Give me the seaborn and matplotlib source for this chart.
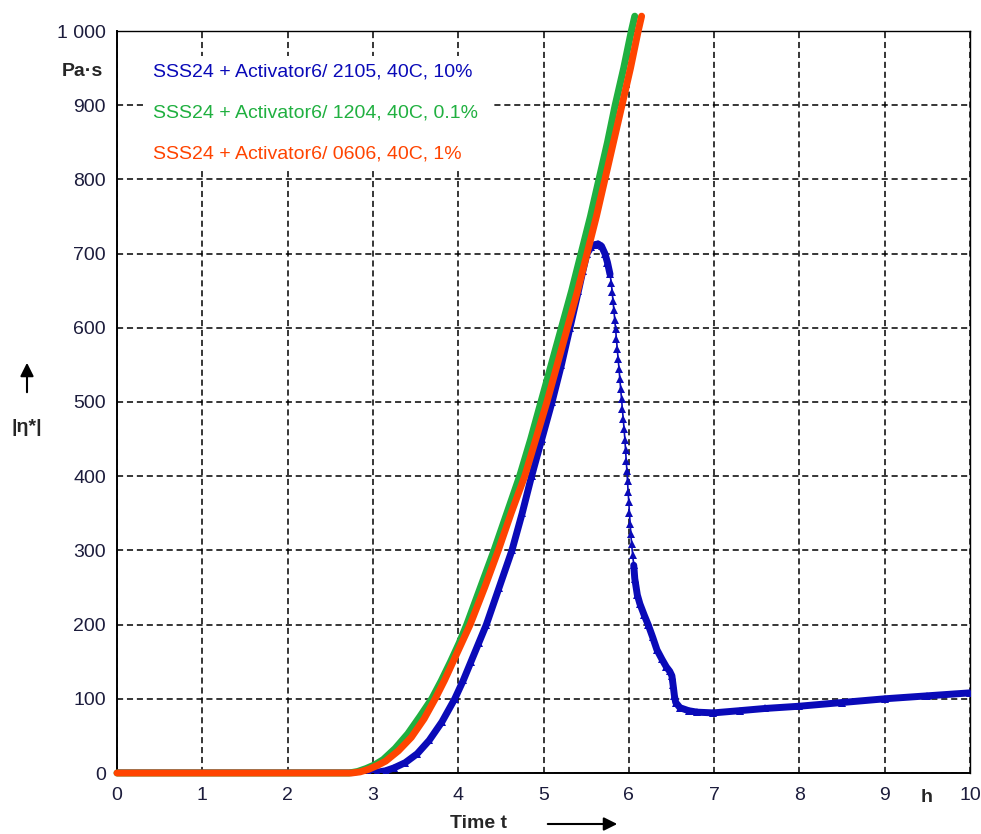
import numpy as np
import pandas as pd
import matplotlib
matplotlib.use("Agg")
import matplotlib.pyplot as plt
import seaborn as sns
from matplotlib.ticker import MultipleLocator, FixedLocator
from matplotlib.patches import Rectangle

# ---------------- data ----------------
series_names = [
    "SSS24 + Activator6/ 2105, 40C, 10%",
    "SSS24 + Activator6/ 1204, 40C, 0.1%",
    "SSS24 + Activator6/ 0606, 40C, 1%",
]

green_t = [0, 1, 2, 2.72, 2.82, 2.92, 3.02, 3.12, 3.26, 3.41, 3.55, 3.69, 3.80, 3.91, 4.01,
           4.10, 4.26, 4.42, 4.57, 4.72, 4.85, 4.97, 5.09, 5.21, 5.33, 5.44, 5.55, 5.65,
           5.75, 5.84, 5.94, 6.03, 6.07]
green_v = [0, 0, 0, 0, 2, 6, 11, 18, 33, 53, 76, 100, 124, 150, 175,
           200, 250, 300, 350, 400, 450, 500, 550, 600, 650, 700, 750, 800,
           850, 900, 950, 1000, 1020]

red_t = [0, 1, 2, 2.75, 2.85, 2.95, 3.05, 3.15, 3.30, 3.45, 3.60, 3.73, 3.84, 3.94, 4.04,
         4.14, 4.31, 4.47, 4.62, 4.78, 4.91, 5.04, 5.16, 5.28, 5.40, 5.51, 5.62, 5.72,
         5.82, 5.92, 6.02, 6.11, 6.15]
red_v = [0, 0, 0, 0, 1.5, 5, 10, 16, 30, 48, 73, 100, 125, 150, 175,
         200, 250, 300, 350, 400, 450, 500, 550, 600, 650, 700, 750, 800,
         850, 900, 950, 1000, 1020]

blue_t = [0, 1, 2, 2.95, 3.05, 3.15, 3.25, 3.38, 3.52, 3.66, 3.81, 3.96, 4.06, 4.15, 4.24,
          4.33, 4.48, 4.63, 4.75, 4.86, 4.98, 5.10, 5.21, 5.31, 5.41, 5.46, 5.51, 5.56,
          5.60, 5.64, 5.68, 5.72, 5.75, 5.78,
          5.795, 5.805, 5.815, 5.825, 5.835, 5.845, 5.855, 5.865, 5.875, 5.885, 5.895,
          5.905, 5.915, 5.925, 5.935, 5.945, 5.955, 5.962, 5.97, 5.978, 5.985,
          5.992, 6.0, 6.008, 6.016, 6.024, 6.033, 6.045, 6.058, 6.07,
          6.10, 6.13, 6.18, 6.23, 6.28, 6.33, 6.39, 6.44, 6.48, 6.505, 6.52, 6.535, 6.55,
          6.60, 6.70, 6.80, 6.99, 7.30, 7.60, 8.00, 8.50, 9.00, 9.50, 10.0]
blue_v = [0, 0, 0, 0, 1, 3, 7, 14, 26, 44, 69, 100, 125, 150, 175,
          200, 250, 300, 350, 400, 450, 500, 550, 600, 650, 676, 700, 709,
          712, 713, 710, 700, 688, 672,
          660, 648, 636, 624, 611, 598, 585, 571, 558, 545, 531,
          517, 504, 490, 477, 463, 449, 435, 421, 407, 393,
          379, 365, 350, 336, 322, 308, 294, 280, 262,
          240, 228, 213, 199, 183, 166, 153, 143, 137, 131, 118, 104, 95,
          88, 84, 82, 81, 84, 87, 90, 95, 100, 104, 108]

y_ticks = [0, 100, 200, 300, 400, 500, 600, 700, 800, 900, 1000]
y_tick_labels = ["0", "100", "200", "300", "400", "500", "600", "700", "800", "900", "1 000"]
x_ticks = [0, 1, 2, 3, 4, 5, 6, 7, 8, 9, 10]

# ---------------- style ----------------
sns.set_style("white")
plt.rcParams["font.family"] = ["Liberation Sans", "DejaVu Sans"]

W, H = 981, 834
fig = plt.figure(figsize=(W / 100, H / 100), dpi=100)
ax = fig.add_axes([117 / W, (H - 773) / H, 853 / W, 742 / H])

c_blue = "#0a0ab8"
c_green = "#20b040"
c_red = "#ff4400"

df_blue = pd.DataFrame({"t": blue_t, "v": blue_v})
thick_a = df_blue[df_blue["t"] <= 5.79]
thick_b = df_blue[df_blue["t"] >= 6.058]

# blue: thin line with triangle markers everywhere, thick where points are dense
sns.lineplot(data=df_blue, x="t", y="v", ax=ax, color=c_blue, lw=1.2, marker="^",
             markersize=6, markeredgewidth=0, estimator=None, sort=False, zorder=3)
sns.lineplot(data=thick_a, x="t", y="v", ax=ax, color=c_blue, lw=5, estimator=None,
             sort=False, zorder=3)
sns.lineplot(data=thick_b, x="t", y="v", ax=ax, color=c_blue, lw=5, estimator=None,
             sort=False, zorder=3)
for ln in ax.lines:
    ln.set_solid_joinstyle("round")
    ln.set_solid_capstyle("round")

sns.lineplot(x=green_t, y=green_v, ax=ax, color=c_green, lw=5, estimator=None,
             sort=False, zorder=4)
sns.lineplot(x=red_t, y=red_v, ax=ax, color=c_red, lw=5, estimator=None,
             sort=False, zorder=5)
for ln in ax.lines[-2:]:
    ln.set_clip_on(False)
    ln.set_solid_joinstyle("round")

ax.set_xlim(0, 10)
ax.set_ylim(0, 1000)
ax.set_xlabel("")
ax.set_ylabel("")

ax.yaxis.set_major_locator(FixedLocator(y_ticks))
ax.set_yticklabels(y_tick_labels)
ax.xaxis.set_major_locator(FixedLocator(x_ticks))
ax.set_xticklabels([str(v) for v in x_ticks])
ax.xaxis.set_minor_locator(MultipleLocator(0.2))
ax.yaxis.set_minor_locator(MultipleLocator(20))

tick_color = "#1c1c3c"
ax.tick_params(axis="both", which="major", direction="inout", length=10, width=1.3,
               color="black", labelsize=14, labelcolor=tick_color)
ax.tick_params(axis="y", which="major", pad=3)
ax.tick_params(axis="x", which="major", pad=5)
ax.tick_params(axis="both", which="minor", direction="in", length=3.5, width=1.1,
               color="black")
ax.tick_params(top=False, right=False, which="both")

ax.grid(True, which="major", color="black", lw=1.1, linestyle=(0, (4, 2.5)), zorder=1)
ax.set_axisbelow(True)
for s in ax.spines.values():
    s.set_color("black")
    s.set_linewidth(1.4)
    s.set_visible(True)
ax.spines["top"].set_linewidth(1.0)
ax.spines["right"].set_linewidth(1.0)

# white box behind the legend texts (hides the grid there)
x_per_px = 10 / 853
y_per_px = 1000 / 742
ax.add_patch(Rectangle(((146 - 117) * x_per_px, (773 - 170) * y_per_px),
                       (492 - 146) * x_per_px, (170 - 56) * y_per_px,
                       facecolor="white", edgecolor="none", zorder=2))

# legend texts
for name, col, ypx in zip(series_names, [c_blue, c_green, c_red], [72, 113, 154]):
    fig.text(153 / W, 1 - ypx / H, name, color=col, fontsize=14, ha="left", va="center")

# axis annotations
fig.text(82 / W, 1 - 72 / H, "Pa·s", fontsize=14, fontweight="bold", ha="center", va="center")
fig.text(27 / W, 1 - 427 / H, "|η*|", fontsize=14, fontweight="bold", ha="center", va="center")
fig.text(478 / W, 1 - 823 / H, "Time t", fontsize=14, fontweight="bold", ha="center", va="center")
fig.text(927 / W, 1 - 798 / H, "h", fontsize=14, fontweight="bold", ha="center", va="center")

ax.annotate("", xy=(27, H - 360), xytext=(27, H - 395), xycoords="figure pixels",
            textcoords="figure pixels",
            arrowprops=dict(arrowstyle="-|>", color="black", lw=1.5, mutation_scale=20))
ax.annotate("", xy=(620, H - 824), xytext=(545, H - 824), xycoords="figure pixels",
            textcoords="figure pixels",
            arrowprops=dict(arrowstyle="-|>", color="black", lw=1.5, mutation_scale=20))

fig.savefig("out.png", dpi=100, facecolor="white")
